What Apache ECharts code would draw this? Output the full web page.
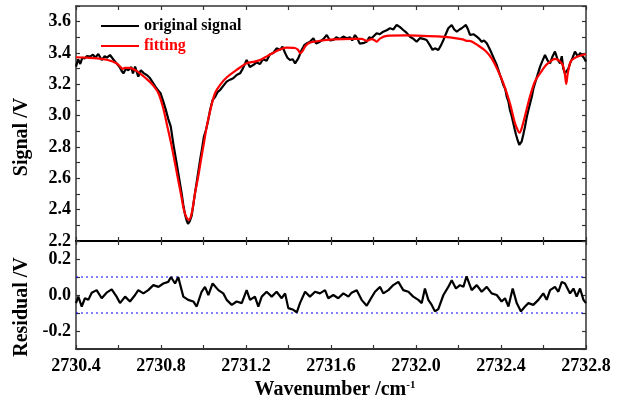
<!DOCTYPE html>
<html>
<head>
<meta charset="utf-8">
<script src="https://cdn.jsdelivr.net/npm/echarts@6/dist/echarts.min.js"></script>
<style>
html,body{margin:0;padding:0;background:#fff;}
#chart{width:622px;height:404px;}
</style>
</head>
<body>
<div id="chart"></div>
<script>
// ---- data ----
const signalX = [2730.400,2730.410,2730.420,2730.430,2730.442,2730.452,2730.466,2730.480,2730.490,2730.505,2730.521,2730.535,2730.545,2730.560,2730.575,2730.591,2730.605,2730.615,2730.623,2730.635,2730.646,2730.660,2730.668,2730.678,2730.693,2730.705,2730.720,2730.733,2730.748,2730.764,2730.776,2730.788,2730.798,2730.811,2730.822,2730.834,2730.846,2730.858,2730.871,2730.884,2730.897,2730.905,2730.913,2730.921,2730.927,2730.935,2730.944,2730.952,2730.960,2730.972,2730.984,2730.993,2731.002,2731.012,2731.022,2731.031,2731.043,2731.055,2731.066,2731.078,2731.093,2731.109,2731.125,2731.140,2731.156,2731.172,2731.185,2731.203,2731.218,2731.234,2731.250,2731.266,2731.280,2731.297,2731.312,2731.328,2731.344,2731.360,2731.372,2731.384,2731.395,2731.407,2731.420,2731.431,2731.446,2731.462,2731.474,2731.486,2731.500,2731.517,2731.530,2731.548,2731.565,2731.580,2731.595,2731.611,2731.625,2731.642,2731.658,2731.674,2731.690,2731.700,2731.713,2731.725,2731.735,2731.744,2731.756,2731.768,2731.780,2731.791,2731.803,2731.815,2731.830,2731.846,2731.862,2731.878,2731.893,2731.909,2731.925,2731.940,2731.955,2731.972,2731.988,2732.003,2732.019,2732.035,2732.050,2732.065,2732.078,2732.089,2732.105,2732.118,2732.129,2732.140,2732.152,2732.168,2732.180,2732.192,2732.205,2732.215,2732.235,2732.245,2732.254,2732.270,2732.286,2732.298,2732.309,2732.320,2732.333,2732.345,2732.356,2732.368,2732.380,2732.395,2732.403,2732.411,2732.420,2732.427,2732.435,2732.442,2732.450,2732.458,2732.465,2732.471,2732.479,2732.486,2732.492,2732.497,2732.505,2732.513,2732.521,2732.529,2732.537,2732.545,2732.552,2732.560,2732.572,2732.584,2732.595,2732.607,2732.620,2732.631,2732.643,2732.654,2732.666,2732.678,2732.686,2732.693,2732.701,2732.709,2732.717,2732.725,2732.737,2732.748,2732.756,2732.764,2732.772,2732.780,2732.790,2732.800];
const signalY = [3.313,3.360,3.330,3.370,3.366,3.380,3.377,3.390,3.370,3.394,3.355,3.380,3.370,3.387,3.360,3.334,3.310,3.285,3.270,3.300,3.290,3.310,3.270,3.313,3.249,3.290,3.270,3.260,3.240,3.207,3.180,3.160,3.143,3.090,3.040,2.980,2.930,2.820,2.717,2.610,2.505,2.430,2.370,2.330,2.310,2.325,2.360,2.430,2.505,2.610,2.717,2.790,2.866,2.910,2.970,3.036,3.100,3.120,3.150,3.164,3.190,3.217,3.230,3.239,3.260,3.270,3.300,3.355,3.310,3.323,3.340,3.330,3.360,3.350,3.390,3.400,3.430,3.420,3.440,3.400,3.370,3.355,3.360,3.334,3.366,3.419,3.450,3.462,3.470,3.494,3.460,3.472,3.490,3.515,3.480,3.483,3.500,3.490,3.505,3.494,3.500,3.480,3.515,3.490,3.460,3.451,3.465,3.472,3.500,3.494,3.510,3.526,3.520,3.536,3.545,3.558,3.550,3.579,3.565,3.547,3.530,3.504,3.490,3.472,3.495,3.490,3.483,3.450,3.420,3.430,3.419,3.450,3.483,3.520,3.558,3.579,3.550,3.536,3.550,3.558,3.579,3.550,3.515,3.520,3.504,3.490,3.472,3.480,3.462,3.430,3.398,3.360,3.323,3.260,3.230,3.196,3.170,3.121,3.090,3.036,3.000,2.951,2.910,2.877,2.840,2.813,2.820,2.834,2.880,2.930,2.990,3.036,3.080,3.121,3.170,3.207,3.260,3.313,3.350,3.387,3.350,3.334,3.380,3.409,3.360,3.334,3.380,3.302,3.270,3.260,3.300,3.334,3.370,3.409,3.390,3.377,3.400,3.409,3.370,3.345];

const fitX = [2730.400,2730.450,2730.500,2730.550,2730.590,2730.610,2730.620,2730.630,2730.650,2730.680,2730.700,2730.740,2730.765,2730.788,2730.810,2730.830,2730.848,2730.863,2730.878,2730.893,2730.908,2730.920,2730.932,2730.945,2730.960,2730.975,2730.988,2731.002,2731.015,2731.033,2731.054,2731.080,2731.110,2731.156,2731.203,2731.240,2731.266,2731.300,2731.340,2731.390,2731.430,2731.445,2731.455,2731.465,2731.480,2731.501,2731.548,2731.611,2731.700,2731.745,2731.768,2731.790,2731.805,2731.815,2731.830,2731.862,2731.950,2732.003,2732.100,2732.160,2732.220,2732.238,2732.250,2732.301,2732.330,2732.356,2732.385,2732.411,2732.442,2732.466,2732.478,2732.486,2732.495,2732.508,2732.536,2732.560,2732.584,2732.610,2732.631,2732.654,2732.675,2732.690,2732.700,2732.707,2732.714,2732.725,2732.733,2732.760,2732.800];
const fitY = [3.373,3.370,3.366,3.355,3.335,3.310,3.298,3.305,3.305,3.290,3.270,3.225,3.190,3.143,3.050,2.930,2.820,2.717,2.610,2.505,2.398,2.350,2.335,2.380,2.505,2.610,2.717,2.825,2.930,3.040,3.143,3.200,3.245,3.292,3.334,3.345,3.355,3.380,3.410,3.434,3.432,3.420,3.398,3.410,3.445,3.466,3.478,3.487,3.490,3.490,3.478,3.488,3.482,3.472,3.492,3.509,3.512,3.511,3.506,3.500,3.487,3.478,3.478,3.440,3.410,3.366,3.290,3.207,3.079,2.951,2.910,2.891,2.910,2.972,3.121,3.220,3.270,3.320,3.345,3.362,3.350,3.325,3.270,3.202,3.270,3.335,3.355,3.378,3.392];

const residX = [2730.400,2730.411,2730.427,2730.442,2730.458,2730.474,2730.497,2730.521,2730.544,2730.568,2730.591,2730.607,2730.631,2730.654,2730.678,2730.693,2730.717,2730.740,2730.764,2730.788,2730.811,2730.834,2730.847,2730.866,2730.881,2730.905,2730.928,2730.952,2730.968,2730.991,2731.007,2731.023,2731.043,2731.070,2731.093,2731.109,2731.133,2731.156,2731.180,2731.203,2731.219,2731.242,2731.258,2731.274,2731.297,2731.321,2731.344,2731.368,2731.384,2731.399,2731.423,2731.439,2731.454,2731.478,2731.501,2731.525,2731.548,2731.572,2731.587,2731.611,2731.634,2731.658,2731.682,2731.697,2731.721,2731.744,2731.768,2731.784,2731.807,2731.831,2731.846,2731.870,2731.893,2731.917,2731.940,2731.964,2731.987,2732.011,2732.027,2732.042,2732.058,2732.074,2732.089,2732.105,2732.129,2732.152,2732.168,2732.188,2732.207,2732.223,2732.238,2732.262,2732.286,2732.309,2732.333,2732.356,2732.380,2732.403,2732.419,2732.435,2732.455,2732.474,2732.494,2732.513,2732.529,2732.552,2732.576,2732.599,2732.615,2732.631,2732.654,2732.670,2732.686,2732.701,2732.725,2732.741,2732.756,2732.772,2732.788,2732.800];
const residY = [-0.045,-0.009,-0.064,-0.018,-0.027,0.013,0.027,-0.018,0.013,0.031,-0.009,-0.045,-0.009,-0.036,0.000,0.027,0.009,0.027,0.055,0.045,0.064,0.073,0.100,0.064,0.100,-0.009,-0.027,-0.036,-0.064,0.018,0.045,0.000,0.064,0.027,0.009,-0.027,-0.055,-0.036,-0.045,0.027,-0.027,-0.009,-0.064,-0.009,0.018,-0.009,0.018,-0.018,0.009,-0.073,-0.082,-0.096,-0.045,0.018,-0.009,0.018,0.009,0.027,-0.018,0.000,-0.018,0.009,-0.009,0.013,0.027,-0.027,-0.060,-0.027,0.018,0.045,0.009,0.027,0.055,0.073,0.027,0.018,-0.009,-0.027,-0.045,0.036,-0.027,-0.055,-0.091,-0.078,0.000,0.045,0.082,0.036,0.055,0.045,0.104,0.027,0.055,0.018,0.045,0.009,0.000,-0.036,-0.018,-0.064,0.036,-0.045,-0.091,-0.064,-0.045,-0.055,-0.027,0.009,-0.027,0.027,0.045,0.018,0.073,0.064,0.009,0.036,-0.009,0.036,-0.027,-0.045];

const residUpper = 0.1;
const residLower = -0.1;
const xMin = 2730.4, xMax = 2732.8;
const signalRange = [2.2, 3.7];
const residRange = [-0.3, 0.3];

// ---- chart ----
const zip = (xs, ys) => xs.map((x, i) => [x, ys[i]]);
const FONT = '"Liberation Serif", "Times New Roman", serif';
const frame = '#333';

function evenLabel(v) {
  const k = Math.round(v * 10);
  if (Math.abs(k - v * 10) > 1e-6) return '';
  return (k % 2 === 0) ? (k / 10).toFixed(1) : '';
}
function xLabel(v) {
  const k = Math.round(v * 10);
  return (k % 4 === 0) ? (k / 10).toFixed(1) : '';
}

const tickStyle = { show: true, inside: true, length: 4, lineStyle: { color: frame, width: 1.2 } };
const labelStyle = { fontFamily: FONT, fontWeight: 'bold', fontSize: 18, color: '#000' };

function xAxis(grid, pos, showLabel, lineColor, lineWidth) {
  return {
    type: 'value', gridIndex: grid, position: pos, min: xMin, max: xMax, interval: 0.2,
    axisLine: { show: true, onZero: false, lineStyle: { color: lineColor, width: lineWidth } },
    axisTick: tickStyle,
    axisLabel: showLabel ? Object.assign({ show: true, margin: 8, formatter: xLabel }, labelStyle) : { show: false },
    splitLine: { show: false }
  };
}
function yAxis(grid, pos, range, showLabel) {
  return {
    type: 'value', gridIndex: grid, position: pos, min: range[0], max: range[1], interval: 0.1,
    axisLine: { show: true, onZero: false, lineStyle: { color: frame, width: 1.5 } },
    axisTick: tickStyle,
    axisLabel: showLabel ? Object.assign({ show: true, margin: 5, formatter: evenLabel }, labelStyle) : { show: false },
    splitLine: { show: false }
  };
}

const limitLine = (name, v) => ({
  name: name, type: 'line', xAxisIndex: 2, yAxisIndex: 2, symbol: 'none', silent: true, z: 1,
  lineStyle: { color: '#0000ff', type: [2, 3], width: 1.2 },
  data: [[xMin, v], [xMax, v]]
});

const chart = echarts.init(document.getElementById('chart'), null, { renderer: 'canvas' });
chart.setOption({
  animation: false,
  backgroundColor: '#fff',
  grid: [
    { left: 76, right: 36, top: 6, height: 235 },
    { left: 76, right: 36, top: 241, height: 108 }
  ],
  xAxis: [
    xAxis(0, 'bottom', false, '#000', 2),
    xAxis(0, 'top', false, frame, 1.5),
    xAxis(1, 'bottom', true, frame, 2),
    xAxis(1, 'top', false, '#000', 2)
  ],
  yAxis: [
    yAxis(0, 'left', signalRange, true),
    yAxis(0, 'right', signalRange, false),
    yAxis(1, 'left', residRange, true),
    yAxis(1, 'right', residRange, false)
  ],
  legend: {
    orient: 'vertical', left: 96, top: 13, itemWidth: 38, itemHeight: 2, itemGap: 4,
    icon: 'rect',
    textStyle: { fontFamily: FONT, fontWeight: 'bold', fontSize: 16 },
    data: [
      { name: 'original signal', icon: 'rect', itemStyle: { color: '#000' }, textStyle: { color: '#000' } },
      { name: 'fitting', icon: 'rect', itemStyle: { color: '#ff0000' }, textStyle: { color: '#ff0000' } }
    ]
  },
  graphic: [
    { type: 'text', x: 22, y: 137, rotation: Math.PI / 2,
      style: { text: 'Signal /V', align: 'center', verticalAlign: 'middle', font: 'bold 20px ' + FONT, fill: '#000' } },
    { type: 'text', x: 22, y: 307, rotation: Math.PI / 2,
      style: { text: 'Residual /V', align: 'center', verticalAlign: 'middle', font: 'bold 20px ' + FONT, fill: '#000' } },
    { type: 'text', x: 335, y: 390,
      style: { text: '{a|Wavenumber /cm}{b|-1}', align: 'center', verticalAlign: 'middle', fill: '#000',
        rich: {
          a: { fontFamily: FONT, fontWeight: 'bold', fontSize: 20, fill: '#000', color: '#000' },
          b: { fontFamily: FONT, fontWeight: 'bold', fontSize: 11, fill: '#000', color: '#000', verticalAlign: 'top', padding: [0, 0, 10, 0] }
        } } }
  ],
  series: [
    { name: 'original signal', type: 'line', xAxisIndex: 0, yAxisIndex: 0, symbol: 'none',
      lineStyle: { color: '#000', width: 2.2 }, itemStyle: { color: '#000' },
      data: zip(signalX, signalY), z: 2 },
    { name: 'fitting', type: 'line', xAxisIndex: 0, yAxisIndex: 0, symbol: 'none', smooth: 0.3,
      lineStyle: { color: '#ff0000', width: 2.2 }, itemStyle: { color: '#ff0000' },
      data: zip(fitX, fitY), z: 3 },
    limitLine('upper limit', residUpper),
    limitLine('lower limit', residLower),
    { name: 'residual', type: 'line', xAxisIndex: 2, yAxisIndex: 2, symbol: 'none',
      lineStyle: { color: '#000', width: 2.2 }, itemStyle: { color: '#000' },
      data: zip(residX, residY), z: 2 }
  ]
});
</script>
</body>
</html>
